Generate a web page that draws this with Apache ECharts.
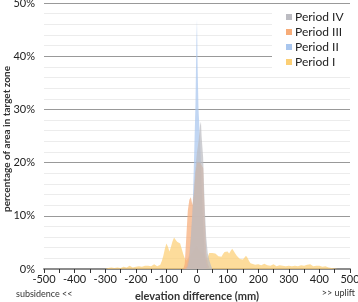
<!DOCTYPE html>
<html>
<head>
<meta charset="utf-8">
<script src="https://cdn.jsdelivr.net/npm/echarts@6/dist/echarts.min.js"></script>
<style>
  html, body { margin: 0; padding: 0; background: #fff; }
  #chart { width: 358px; height: 302px; }
</style>
</head>
<body>
<div id="chart"></div>
<script>
// elevation difference (mm) and percentage of area
const xP1 = [-300, -290, -280, -270, -260, -250, -240, -230, -220, -210, -200, -190, -180, -170, -160, -150, -140, -130, -120, -115, -110, -105, -100, -95, -90, -85, -80, -75, -70, -65, -60, -55, -50, -45, -40, -35, -30, -25, -20, -15, -10, -5, 0, 5, 10, 15, 20, 25, 30, 35, 40, 45, 50, 55, 60, 65, 70, 75, 80, 85, 90, 95, 100, 105, 110, 115, 120, 125, 130, 135, 140, 145, 150, 155, 160, 165, 170, 175, 180, 190, 200, 210, 220, 230, 240, 250, 260, 270, 280, 290, 300, 310, 320, 330, 340, 350, 360, 370, 380, 390, 400, 410, 420, 430, 440, 450, 460]
const yP1 = [0, 0.2, 0.3, 0.2, 0.3, 0.2, 0.4, 0.3, 0.6, 0.3, 0.4, 0.5, 0.4, 0.6, 0.6, 0.5, 0.9, 0.5, 0.8, 1.5, 2.5, 3.8, 4.8, 4.2, 3.3, 4.2, 5.2, 5.9, 5.5, 5.1, 5.4, 4.8, 3.8, 2.8, 2.0, 1.6, 1.9, 2.3, 2.8, 3.2, 3.6, 4.1, 4.5, 3.8, 3.3, 3.5, 3.0, 2.3, 1.7, 2.2, 3.0, 3.3, 3.0, 2.7, 2.9, 2.6, 2.4, 2.7, 2.3, 2.8, 3.2, 3.0, 3.3, 2.9, 3.4, 3.8, 3.4, 2.9, 2.5, 2.2, 1.9, 1.7, 1.8, 2.1, 2.5, 2.1, 1.5, 1.1, 0.9, 0.8, 0.9, 0.7, 1.0, 0.7, 0.6, 0.9, 0.5, 0.7, 0.6, 0.5, 0.6, 0.5, 0.6, 0.5, 0.7, 0.6, 0.8, 0.9, 0.5, 0.6, 0.6, 0.4, 0.5, 0.3, 0.2, 0.1, 0]

const xP2 = [-40, -35, -30, -25, -20, -15, -10, -5, -2, 0, 2, 5, 10, 15, 20, 25, 30, 35, 40]
const yP2 = [0, 0.5, 1.5, 3, 6, 10, 20, 31, 42.7, 47, 38, 30, 24, 16, 8, 3, 1, 0.3, 0]

const xP3 = [-45, -40, -35, -30, -25, -20, -15, -10, -5, 0, 5, 10, 15, 20, 25, 30, 35, 40, 45]
const yP3 = [0, 1, 6, 11, 13, 13.5, 12, 14, 18, 20, 20, 20, 20, 19, 10, 3, 1, 0.3, 0]

const xP4 = [-35, -30, -25, -20, -15, -10, -5, 0, 5, 10, 13, 15, 20, 25, 30, 35, 40, 45, 50]
const yP4 = [0, 0.5, 2, 6, 11, 15, 19, 22, 24, 27, 27.7, 25, 21, 12, 6, 3, 1.7, 0.8, 0]

const names = ['Period I', 'Period II', 'Period III', 'Period IV']
const colors = ['#fccf74', '#a9c6ee', '#f7ac78', '#bcbcc2']

function pairs(xs, ys) {
  return xs.map((x, i) => [x, ys[i]])
}

const font = 'Lato, "Noto Sans", sans-serif'
const chart = echarts.init(document.getElementById('chart'))

const series = [[xP1, yP1], [xP2, yP2], [xP3, yP3], [xP4, yP4]].map((d, i) => ({
  name: names[i],
  type: 'line',
  data: pairs(d[0], d[1]),
  symbol: 'none',
  lineStyle: { width: 0 },
  itemStyle: { color: colors[i] },
  areaStyle: { color: colors[i], opacity: 0.72 },
  z: 2 + i
}))

const option = {
  animation: false,
  textStyle: { fontFamily: font },
  grid: { left: 44, right: 8, top: 3, bottom: 33, outerBoundsMode: 'none' },
  legend: {
    data: ['Period IV', 'Period III', 'Period II', 'Period I'],
    orient: 'vertical',
    left: 272,
    top: 8,
    padding: [3, 12, 4, 14],
    backgroundColor: '#fff',
    icon: 'rect',
    itemWidth: 6,
    itemHeight: 6,
    itemGap: 3,
    textStyle: { fontSize: 12, color: '#222', fontFamily: font, padding: [0, 0, 0, -2] }
  },
  xAxis: {
    type: 'value',
    min: -500,
    max: 500,
    interval: 100,
    name: 'elevation difference (mm)',
    nameLocation: 'middle',
    nameGap: 22,
    nameTextStyle: { fontSize: 11, fontWeight: 'bold', color: '#333', fontFamily: font },
    axisLine: { lineStyle: { color: '#8c8c8c', width: 2 } },
    axisTick: { show: true, length: 4, lineStyle: { color: '#333' } },
    minorTick: { show: true, splitNumber: 2, length: 4, lineStyle: { color: '#333' } },
    axisLabel: { fontSize: 11, color: '#222', margin: 5 },
    splitLine: { show: false }
  },
  yAxis: {
    type: 'value',
    min: 0,
    max: 50,
    interval: 10,
    axisLine: { show: false },
    axisTick: { show: false },
    axisLabel: { fontSize: 11, color: '#222', formatter: '{value}%', margin: 9 },
    splitLine: { lineStyle: { color: '#999', width: 1 } },
    minorTick: { show: false, splitNumber: 5 },
    minorSplitLine: { show: true, lineStyle: { color: '#ececec', width: 1 } }
  },
  graphic: [
    {
      type: 'text', x: 7, y: 139, rotation: Math.PI / 2,
      style: { text: 'percentage of area in target zone', fontSize: 10, fontWeight: 'bold', fill: '#333', fontFamily: font, align: 'center', verticalAlign: 'middle' }
    },
    { type: 'text', left: 16, top: 290, style: { text: 'subsidence <<', fontSize: 9, fill: '#333', fontFamily: font } },
    { type: 'text', right: 3, top: 289, style: { text: '>> uplift', fontSize: 9, fill: '#333', fontFamily: font } }
  ],
  series: series
}
chart.setOption(option)
</script>
</body>
</html>
